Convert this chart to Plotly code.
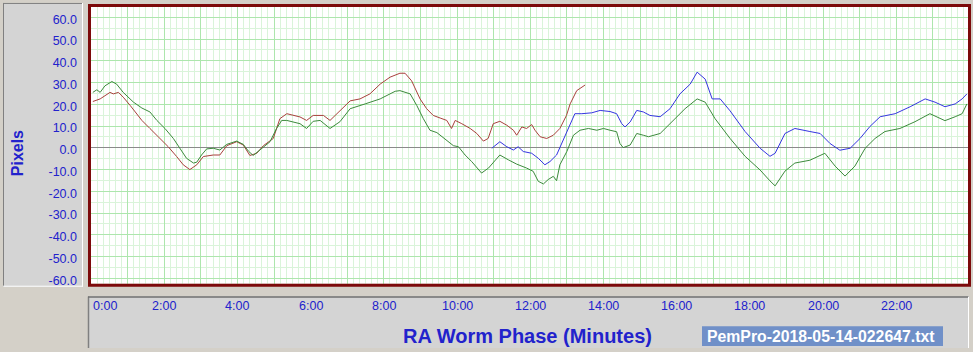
import plotly.graph_objects as go

# ---------------- data (minutes, pixels) ----------------
green_t = [0.05, 0.16, 0.25, 0.38, 0.57, 0.70, 0.88, 1.16, 1.39, 1.61, 1.80, 2.02, 2.25, 2.43, 2.61, 2.80,
           2.89, 3.02, 3.16, 3.34, 3.52, 3.71, 3.98, 4.16, 4.30, 4.43, 4.62, 4.89, 5.07, 5.21, 5.35, 5.71,
           5.89, 6.07, 6.26, 6.53, 6.80, 7.08, 7.49, 7.90, 8.31, 8.44, 8.72, 8.90, 9.08, 9.26, 9.45, 9.72,
           9.90, 10.04, 10.22, 10.40, 10.67, 10.86, 11.08, 11.17, 11.40, 11.63, 11.90, 12.08, 12.22, 12.36,
           12.49, 12.63, 12.72, 12.81, 13.00, 13.18, 13.36, 13.59, 13.82, 14.00, 14.18, 14.36, 14.45, 14.54,
           14.73, 14.91, 15.09, 15.23, 15.55, 15.82, 16.23, 16.56, 16.78, 17.05, 17.46, 17.87, 18.28, 18.55,
           18.69, 18.96, 19.23, 19.64, 20.05, 20.33, 20.60, 20.87, 21.15, 21.42, 21.69, 22.10, 22.51, 22.92,
           23.33, 23.61, 23.80, 23.93]
green_v = [25.5, 26.7, 25.5, 28.5, 30.5, 29.3, 25.5, 21.0, 18.3, 16.5, 12.6, 8.9, 4.3, -0.2, -4.8, -7.0,
           -6.6, -3.3, -0.5, -0.2, -1.0, 1.6, 3.1, 1.6, -1.5, -3.5, -1.0, 2.8, 8.9, 12.6, 12.6, 11.1,
           8.9, 12.2, 12.6, 8.9, 12.0, 18.0, 20.2, 22.5, 26.0, 26.3, 24.8, 19.5, 13.4, 8.1, 7.0, 3.5,
           1.0, 0.5, -3.3, -6.3, -11.6, -9.3, -4.8, -3.3, -5.5, -7.5, -9.3, -10.8, -15.4, -16.6,
           -14.6, -13.1, -15.1, -7.8, -1.7, 5.8, 8.1, 8.9, 8.1, 8.9, 8.1, 7.4, 2.0, 0.1,
           1.3, 6.6, 5.8, 5.1, 6.6, 11.1, 18.0, 22.5, 21.0, 13.4, 4.3, -3.9, -10.2, -15.2,
           -17.5, -10.7, -7.0, -5.7, -2.5, -8.4, -13.0, -8.4, -0.2, 4.3, 7.5, 8.9, 12.0, 15.7,
           12.5, 14.3, 15.7, 20.2]

red_t = [0.05, 0.25, 0.52, 0.61, 0.75, 0.88, 1.07, 1.25, 1.39, 1.61, 1.89, 2.11, 2.34, 2.52, 2.70, 2.89,
         3.07, 3.34, 3.52, 3.71, 3.98, 4.16, 4.34, 4.53, 4.71, 4.98, 5.16, 5.35, 5.71, 5.89, 6.07, 6.35,
         6.53, 6.80, 7.08, 7.35, 7.62, 7.90, 8.17, 8.44, 8.58, 8.76, 8.99, 9.17, 9.35, 9.54, 9.72, 9.85,
         9.95, 10.13, 10.36, 10.54, 10.72, 10.85, 10.99, 11.17, 11.36, 11.54, 11.63, 11.77, 11.90, 12.04,
         12.13, 12.27, 12.45, 12.63, 12.81, 12.99, 13.09, 13.27, 13.50]
red_v = [21.3, 22.5, 25.5, 24.8, 25.5, 23.3, 19.5, 15.7, 12.6, 8.9, 4.3, 0.5, -4.0, -7.8, -10.0, -7.8,
         -4.0, -3.3, -3.3, 1.0, 2.8, 1.3, -3.5, -2.5, 1.0, 4.3, 13.4, 15.7, 14.2, 12.6, 14.9, 14.9,
         12.6, 17.0, 21.6, 22.5, 24.8, 29.3, 32.5, 34.3, 34.3, 30.8, 22.5, 18.0, 14.9, 13.7, 12.6, 8.9,
         12.6, 11.1, 8.9, 6.6, 3.1, 4.3, 11.1, 12.2, 10.4, 8.1, 5.8, 9.6, 8.9, 10.7,
         8.1, 5.1, 4.3, 5.8, 8.9, 14.9, 20.2, 26.3, 28.9]

blue_t = [10.95, 11.04, 11.17, 11.36, 11.54, 11.67, 11.81, 12.04, 12.22, 12.40, 12.54, 12.72, 12.90, 13.09,
          13.22, 13.41, 13.68, 13.91, 14.18, 14.36, 14.50, 14.59, 14.73, 14.91, 15.09, 15.27, 15.55, 15.82,
          16.09, 16.37, 16.56, 16.78, 16.97, 17.19, 17.46, 17.87, 18.28, 18.55, 18.69, 18.96, 19.23, 19.64,
          19.92, 20.19, 20.46, 20.74, 21.01, 21.28, 21.56, 21.97, 22.38, 22.79, 23.06, 23.33, 23.61, 23.80, 23.93]
blue_v = [-0.2, 1.0, 2.8, 0.5, -1.0, 0.5, -1.7, -2.5, -4.8, -7.8, -6.3, -3.3, 3.5, 10.4,
          15.7, 15.7, 16.1, 17.2, 16.7, 15.7, 11.1, 9.6, 11.9, 17.2, 16.5, 14.9, 14.3, 18.0,
          24.8, 29.3, 34.8, 31.6, 22.5, 22.5, 17.0, 7.5, -0.2, -3.9, -2.5, 6.6, 8.9, 7.5,
          6.6, 2.0, -1.1, -0.2, 4.3, 9.8, 14.3, 15.7, 18.9, 22.5, 21.0, 18.9, 20.2, 22.5, 24.8]

y_ticks = [60, 50, 40, 30, 20, 10, 0, -10, -20, -30, -40, -50, -60]
x_ticks = [0, 2, 4, 6, 8, 10, 12, 14, 16, 18, 20, 22]
x_title = "RA Worm Phase (Minutes)"
y_title = "Pixels"
file_label = "PemPro-2018-05-14-022647.txt"

# ---------------- layout helpers ----------------
W, H = 973, 352
def px(x):
    return x / W
def py(y):
    return 1 - y / H

BLUE_TXT = "#2222cc"
FONT = "Liberation Sans, Arial, sans-serif"

fig = go.Figure()
fig.add_trace(go.Scatter(x=red_t, y=red_v, mode="lines", line=dict(color="#a8403c", width=1), hoverinfo="skip"))
fig.add_trace(go.Scatter(x=green_t, y=green_v, mode="lines", line=dict(color="#3c8a3c", width=1), hoverinfo="skip"))
fig.add_trace(go.Scatter(x=blue_t, y=blue_v, mode="lines", line=dict(color="#3535e0", width=1), hoverinfo="skip"))

shapes = []
# left sunken panel
shapes.append(dict(type="rect", xref="paper", yref="paper", x0=px(3), x1=px(83), y0=py(290), y1=py(3),
                   fillcolor="#d4d4d4", line=dict(width=0), layer="below"))
shapes.append(dict(type="line", xref="paper", yref="paper", x0=px(3.5), x1=px(3.5), y0=py(290), y1=py(3), line=dict(color="#808080", width=1)))
shapes.append(dict(type="line", xref="paper", yref="paper", x0=px(3), x1=px(83), y0=py(3.5), y1=py(3.5), line=dict(color="#808080", width=1)))
shapes.append(dict(type="line", xref="paper", yref="paper", x0=px(82.5), x1=px(82.5), y0=py(290), y1=py(3), line=dict(color="#ffffff", width=1)))
shapes.append(dict(type="line", xref="paper", yref="paper", x0=px(3), x1=px(83), y0=py(289.5), y1=py(289.5), line=dict(color="#ffffff", width=1)))
# bottom sunken panel
shapes.append(dict(type="rect", xref="paper", yref="paper", x0=px(88), x1=px(969), y0=py(352), y1=py(300),
                   fillcolor="#d4d4d4", line=dict(width=0), layer="below"))
shapes.append(dict(type="line", xref="paper", yref="paper", x0=px(88.5), x1=px(88.5), y0=py(352), y1=py(300), line=dict(color="#808080", width=1.5)))
shapes.append(dict(type="line", xref="paper", yref="paper", x0=px(88), x1=px(969), y0=py(300.5), y1=py(300.5), line=dict(color="#707070", width=1.5)))
shapes.append(dict(type="line", xref="paper", yref="paper", x0=px(968.5), x1=px(968.5), y0=py(352), y1=py(300), line=dict(color="#ffffff", width=1)))
# file label box
shapes.append(dict(type="rect", xref="paper", yref="paper", x0=px(702), x1=px(943), y0=py(350), y1=py(330),
                   fillcolor="#7090c8", line=dict(width=0)))
# plot border
shapes.append(dict(type="rect", xref="paper", yref="paper", x0=px(89.5), x1=px(969.5), y0=py(288.5), y1=py(5.5),
                   line=dict(color="#7c0a0a", width=3), fillcolor="rgba(0,0,0,0)", layer="above"))

annotations = []
for t in x_ticks:
    annotations.append(dict(x=t, xref="x", y=py(310), yref="paper", text=f"{t}:00", showarrow=False,
                            xanchor="left" if t == 0 else "center", yanchor="middle",
                            font=dict(family=FONT, size=12.5, color=BLUE_TXT)))
annotations.append(dict(x=px(527), y=py(340), xref="paper", yref="paper", text=f"<b>{x_title}</b>", showarrow=False,
                        xanchor="center", yanchor="middle", font=dict(family=FONT, size=20, color=BLUE_TXT)))
annotations.append(dict(x=px(17), y=py(155), xref="paper", yref="paper", text=f"<b>{y_title}</b>", showarrow=False,
                        textangle=-90, xanchor="center", yanchor="middle", font=dict(family=FONT, size=16, color=BLUE_TXT)))
annotations.append(dict(x=px(705), y=py(340), xref="paper", yref="paper", text=f"<b>{file_label}</b>", showarrow=False,
                        xanchor="left", yanchor="middle", font=dict(family=FONT, size=15.8, color="#ffffff")))

fig.update_layout(
    width=W, height=H, margin=dict(l=0, r=0, t=0, b=0),
    paper_bgcolor="#d4d0c8", plot_bgcolor="#ffffff",
    showlegend=False, shapes=shapes, annotations=annotations,
    xaxis=dict(domain=[px(91), px(968)], range=[0, 23.96], showticklabels=False, ticks="",
               tickmode="linear", tick0=0, dtick=1, showgrid=True, gridcolor="#ade6ad", gridwidth=1,
               minor=dict(dtick=1/6, tick0=0, showgrid=True, gridcolor="#daf4da", gridwidth=1),
               zeroline=False, showline=False, fixedrange=True),
    yaxis=dict(domain=[py(287), py(7)], range=[-62.5, 64.8], tickmode="array", tickvals=y_ticks,
               ticktext=[f"{v:.1f}" for v in y_ticks], ticks="", ticklabelstandoff=13, ticklabelshift=2,
               tickfont=dict(family=FONT, size=12.5, color=BLUE_TXT),
               showgrid=True, gridcolor="#ade6ad", gridwidth=1,
               minor=dict(dtick=5, tick0=0, showgrid=True, gridcolor="#daf4da", gridwidth=1),
               zeroline=True, zerolinecolor="#8a8a8a", zerolinewidth=1, showline=False, fixedrange=True),
)
fig.write_html("out.html")
